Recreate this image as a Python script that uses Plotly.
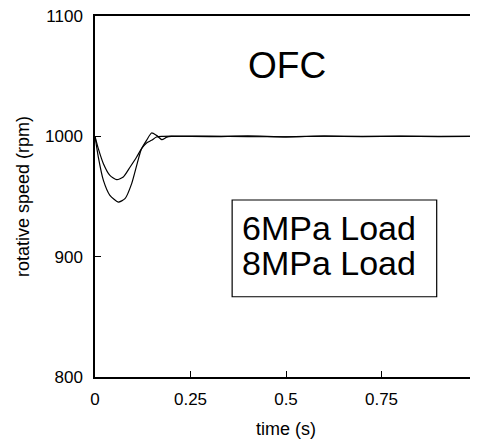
import plotly.graph_objects as go

# 6 MPa load response
t_6mpa = [0.0, 0.0087, 0.022, 0.039, 0.057, 0.074, 0.092, 0.109, 0.122, 0.135, 0.148,
          0.161, 0.175, 0.20, 0.30, 0.40, 0.50, 0.60, 0.70, 0.80, 0.90, 1.0]
rpm_6mpa = [1000, 989.8, 977.3, 967.6, 964.0, 966.2, 974.5, 982.8, 989.8, 994.5, 996.7,
            999.4, 1000.0, 1000.2, 999.8, 1000.3, 999.6, 1000.1, 999.8, 1000.2, 999.9, 1000]

# 8 MPa load response
t_8mpa = [0.0, 0.0087, 0.022, 0.039, 0.061, 0.0785, 0.096, 0.113, 0.122, 0.135, 0.148,
          0.161, 0.175, 0.188, 0.20, 0.30, 0.40, 0.50, 0.60, 0.70, 0.80, 0.90, 1.0]
rpm_8mpa = [1000, 982.8, 963.4, 951.0, 945.4, 948.2, 960.7, 980.5, 989.8, 996.7, 1002.8,
            1000.8, 997.2, 999.4, 1000.0, 1000.2, 999.8, 999.6, 1000.2, 999.9, 1000.0, 999.8, 1000]

x_ticks = [0, 0.25, 0.5, 0.75, 1]
x_labels = ["0", "0.25", "0.5", "0.75", "1"]
y_ticks = [800, 900, 1000, 1100]
y_labels = ["800", "900", "1000", "1100"]

legend_labels = ["6MPa Load", "8MPa Load"]
title_text = "OFC"

FONT = "Liberation Sans, Arial, sans-serif"

fig = go.Figure()
fig.add_trace(go.Scatter(x=t_6mpa, y=rpm_6mpa, mode="lines", name=legend_labels[0],
                         line=dict(color="black", width=1.2, shape="spline", smoothing=0.6)))
fig.add_trace(go.Scatter(x=t_8mpa, y=rpm_8mpa, mode="lines", name=legend_labels[1],
                         line=dict(color="black", width=1.2, shape="spline", smoothing=0.6)))

# legend box (text only, as in the reference)
fig.add_shape(type="rect", xref="x", yref="y", x0=0.359, x1=0.8945, y0=866.7, y1=947.1,
              line=dict(color="black", width=1.2), fillcolor="rgba(0,0,0,0)")
fig.add_annotation(x=0.612, y=924.2, xref="x", yref="y", text=legend_labels[0],
                   showarrow=False, font=dict(family=FONT, size=34, color="black"))
fig.add_annotation(x=0.612, y=895.1, xref="x", yref="y", text=legend_labels[1],
                   showarrow=False, font=dict(family=FONT, size=34, color="black"))
fig.add_annotation(x=0.503, y=1058.5, xref="x", yref="y", text=title_text,
                   showarrow=False, font=dict(family=FONT, size=37, color="black"))

# the page body adds an 8px offset, so the margins compensate for it
fig.update_layout(
    width=478, height=440,
    margin=dict(l=87, r=9, t=8, b=71, autoexpand=False),
    paper_bgcolor="white", plot_bgcolor="white",
    showlegend=False,
    font=dict(family=FONT, size=17, color="black"),
)
fig.update_xaxes(range=[0, 1], tickvals=x_ticks, ticktext=x_labels,
                 ticks="inside", ticklen=6, tickcolor="black", tickwidth=1,
                 showline=True, linecolor="black", linewidth=1.5, mirror=True,
                 showgrid=False, zeroline=False, automargin=False,
                 ticklabelstandoff=6, ticklabeloverflow="allow",
                 title=dict(text="time (s)", font=dict(size=18), standoff=14),
                 tickfont=dict(size=17))
fig.update_yaxes(range=[800, 1100], tickvals=y_ticks, ticktext=y_labels,
                 ticks="inside", ticklen=6, tickcolor="black", tickwidth=1,
                 showline=True, linecolor="black", linewidth=1.5, mirror=True,
                 showgrid=False, zeroline=False, automargin=False,
                 ticklabelstandoff=7, ticklabeloverflow="allow",
                 title=dict(text="rotative speed (rpm)", font=dict(size=18), standoff=11),
                 tickfont=dict(size=17))

fig.write_html("out.html")
